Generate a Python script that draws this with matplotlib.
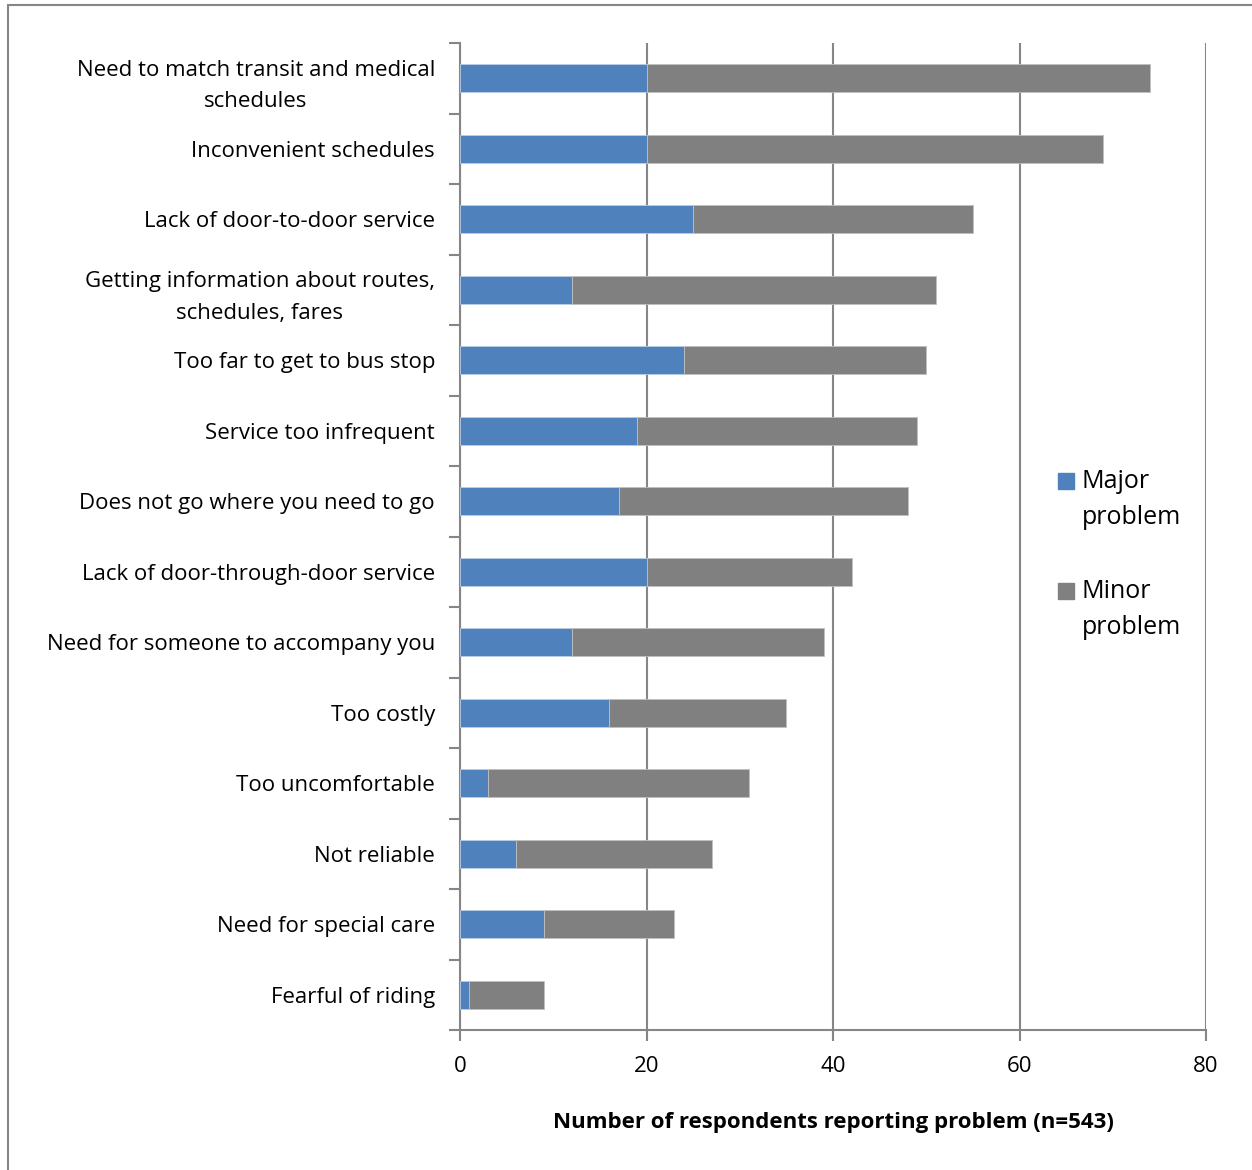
import matplotlib.pyplot as plt
import numpy as np
from matplotlib.patches import Rectangle

# categorias de cima pra baixo
categorias = [
    "Need to match transit and medical\nschedules",
    "Inconvenient schedules",
    "Lack of door-to-door service",
    "Getting information about routes,\nschedules, fares",
    "Too far to get to bus stop",
    "Service too infrequent",
    "Does not go where you need to go",
    "Lack of door-through-door service",
    "Need for someone to accompany you",
    "Too costly",
    "Too uncomfortable",
    "Not reliable",
    "Need for special care",
    "Fearful of riding",
]
major = [20, 20, 25, 12, 24, 19, 17, 20, 12, 16, 3, 6, 9, 1]
minor = [54, 49, 30, 39, 26, 30, 31, 22, 27, 19, 28, 21, 14, 8]
xticks = [0, 20, 40, 60, 80]
series = ['Major\nproblem', 'Minor\nproblem']

plt.rcParams['font.family'] = ['Open Sans', 'DejaVu Sans']

W, H = 1252, 1170
fig = plt.figure(figsize=(W / 100, H / 100), dpi=100)
ax = fig.add_axes([460 / W, 1 - 1030 / H, (1206 - 460) / W, (1030 - 43) / H])

y = np.arange(len(categorias))
azul = '#4f81bd'
cinza = '#808080'
ax.barh(y, major, height=0.4, color=azul, edgecolor='#b9cde5', linewidth=0.6, zorder=3)
ax.barh(y, minor, left=major, height=0.4, color=cinza, edgecolor='#bfbfbf', linewidth=0.6,
        zorder=3)

ax.set_xlim(0, 80)
ax.set_ylim(len(categorias) - 0.5, -0.5)
ax.set_xticks(xticks)
ax.set_xticklabels([str(v) for v in xticks], fontsize=16)
ax.set_yticks(y)
ax.set_yticklabels(categorias, fontsize=16, multialignment='center', linespacing=1.65)
ax.tick_params(axis='y', length=0, pad=18)
ax.set_yticks(np.arange(-0.5, len(categorias)), minor=True)
ax.tick_params(axis='y', which='minor', length=8, color='#868686', width=1.5)
ax.tick_params(axis='x', length=8, color='#868686', width=1.5, pad=11)

ax.grid(axis='x', color='#868686', linewidth=1.5, zorder=0)
for s in ['top', 'right']:
    ax.spines[s].set_visible(False)
for s in ['left', 'bottom']:
    ax.spines[s].set_color('#868686')
    ax.spines[s].set_linewidth(1.5)

ax.set_xlabel('Number of respondents reporting problem (n=543)', fontsize=16,
              fontweight='bold', labelpad=25)

# legenda feita a mao: quadrado alinhado com a primeira linha
for i, (nome, cor) in enumerate(zip(series, [azul, cinza])):
    y0 = 481 + i * 110
    fig.patches.append(Rectangle((1058 / W, 1 - (y0 + 8) / H), 16 / W, 16 / H,
                                 transform=fig.transFigure, color=cor))
    fig.text(1082 / W, 1 - (y0 - 12) / H, nome, fontsize=18, va='top', ha='left',
             linespacing=1.6)

# moldura cinza em volta da figura
fig.patches.append(Rectangle((8 / W, -0.01), 1.02, 1 - 5 / H + 0.01,
                             transform=fig.transFigure, fill=False,
                             edgecolor='#868686', linewidth=1.5))

fig.savefig('out.png', dpi=100)
